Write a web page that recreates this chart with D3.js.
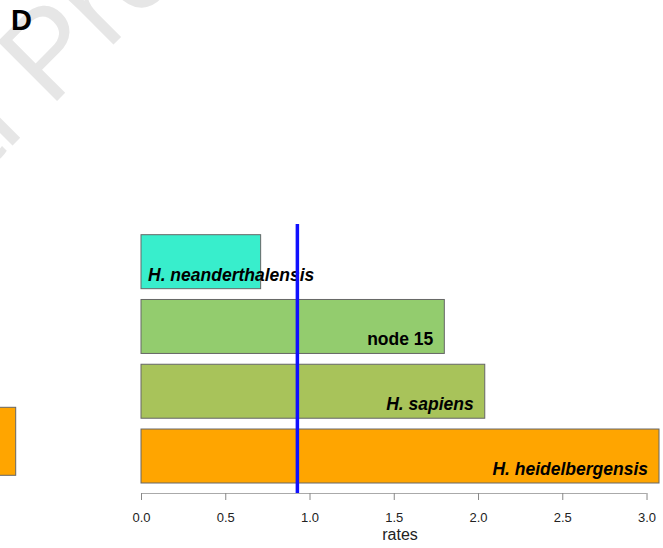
<!DOCTYPE html>
<html lang="en">
<head>
<meta charset="UTF-8">
<title>rates D</title>
<style>
  * { margin: 0; padding: 0; }
  html, body { overflow: hidden; background: #fff; }
  text { font-family: "Liberation Sans", Arial, Helvetica, sans-serif; }
</style>
</head>
<body>
<div id="chart"></div>
<script src="https://cdn.jsdelivr.net/npm/d3@7"></script>
<script>
// data
const names = ['H. neanderthalensis', 'node 15', 'H. sapiens', 'H. heidelbergensis']
const rates = [0.71, 1.80, 2.04, 3.074]
const italic = [true, false, true, true]
const colors = ['#38EECC', '#93CC6E', '#A8C35A', '#FFA500']
const meanRate = 0.928
const ticks = [0, 0.5, 1, 1.5, 2, 2.5, 3]
// clipped bar from neighbouring panel
const leftBarValue = [1]

function drawChart() {
  const width = 663
  const height = 548
  const svg = d3.select('#chart')
    .append('svg')
    .attr('width', width)
    .attr('height', height)

  // watermark
  const wm = svg.append('g').attr('transform', 'translate(50,108) rotate(-45)')
  const measure = wm.append('text').attr('font-size', 122).text('Journal\u00a0')
  const off = measure.node().getComputedTextLength()
  measure.remove()
  wm.append('text')
    .attr('x', -off)
    .attr('font-size', 122)
    .attr('fill', '#e6e6e6')
    .text('Journal Pre-proof')

  svg.append('text')
    .attr('x', 11)
    .attr('y', 30)
    .attr('font-size', 29)
    .attr('font-weight', 'bold')
    .text('D')

  const x = d3.scaleLinear()
    .domain([0, d3.max(rates)])
    .range([141, 659])

  const y = d3.scaleBand()
    .domain(names)
    .range([229.3, 488.4])
    .paddingInner(1 / 6)
    .paddingOuter(1 / 12)

  // clipped bar at left edge
  const xl = d3.scaleLinear().domain([0, 1]).range([-200, 15.7])
  svg.selectAll('rect.left')
    .data(leftBarValue)
    .join('rect')
    .attr('class', 'left')
    .attr('x', xl(0))
    .attr('y', 407.3)
    .attr('width', d => xl(d) - xl(0))
    .attr('height', 68)
    .attr('fill', '#FFA500')
    .attr('stroke', '#666')

  svg.selectAll('rect.bar')
    .data(names)
    .join('rect')
    .attr('class', 'bar')
    .attr('x', x(0))
    .attr('y', d => y(d))
    .attr('width', (d, i) => x(rates[i]) - x(0))
    .attr('height', y.bandwidth())
    .attr('fill', (d, i) => colors[i])
    .attr('stroke', '#666')
    .attr('stroke-width', 1)

  // labels: right aligned inside the bar, or left aligned when they don't fit
  svg.selectAll('text.lab')
    .data(names)
    .join('text')
    .attr('class', 'lab')
    .attr('font-size', 17.5)
    .attr('font-weight', 'bold')
    .attr('font-style', (d, i) => italic[i] ? 'italic' : 'normal')
    .attr('y', d => y(d) + y.bandwidth() - 8)
    .text(d => d)
    .each(function (d, i) {
      const w = this.getComputedTextLength()
      const barW = x(rates[i]) - x(0)
      if (w + 18 > barW) {
        d3.select(this).attr('x', x(0) + 7).attr('text-anchor', 'start')
      } else {
        d3.select(this).attr('x', x(rates[i]) - 11).attr('text-anchor', 'end')
      }
    })

  // mean line
  svg.append('line')
    .attr('x1', x(meanRate))
    .attr('x2', x(meanRate))
    .attr('y1', 224)
    .attr('y2', 493)
    .attr('stroke', '#1010ff')
    .attr('stroke-width', 3.5)

  // axis
  const axis = svg.append('g')
    .attr('transform', 'translate(0,493)')
    .call(d3.axisBottom(x).tickValues(ticks).tickFormat(d3.format('.1f')).tickSizeOuter(0).tickSize(7))
  axis.select('.domain')
    .attr('stroke', '#aaa')
    .attr('d', `M${x(0)},0.5H${x(3)}`)
  axis.selectAll('.tick line').attr('stroke', '#888')
  axis.selectAll('.tick text')
    .attr('font-size', 13)
    .attr('font-family', '"Liberation Sans", Arial, sans-serif')
    .attr('fill', '#222')
    .attr('dy', null)
    .attr('y', 28.5)

  svg.append('text')
    .attr('x', (x.range()[0] + x.range()[1]) / 2)
    .attr('y', 540)
    .attr('text-anchor', 'middle')
    .attr('font-size', 16)
    .attr('fill', '#222')
    .text('rates')
}

drawChart()
</script>
</body>
</html>
